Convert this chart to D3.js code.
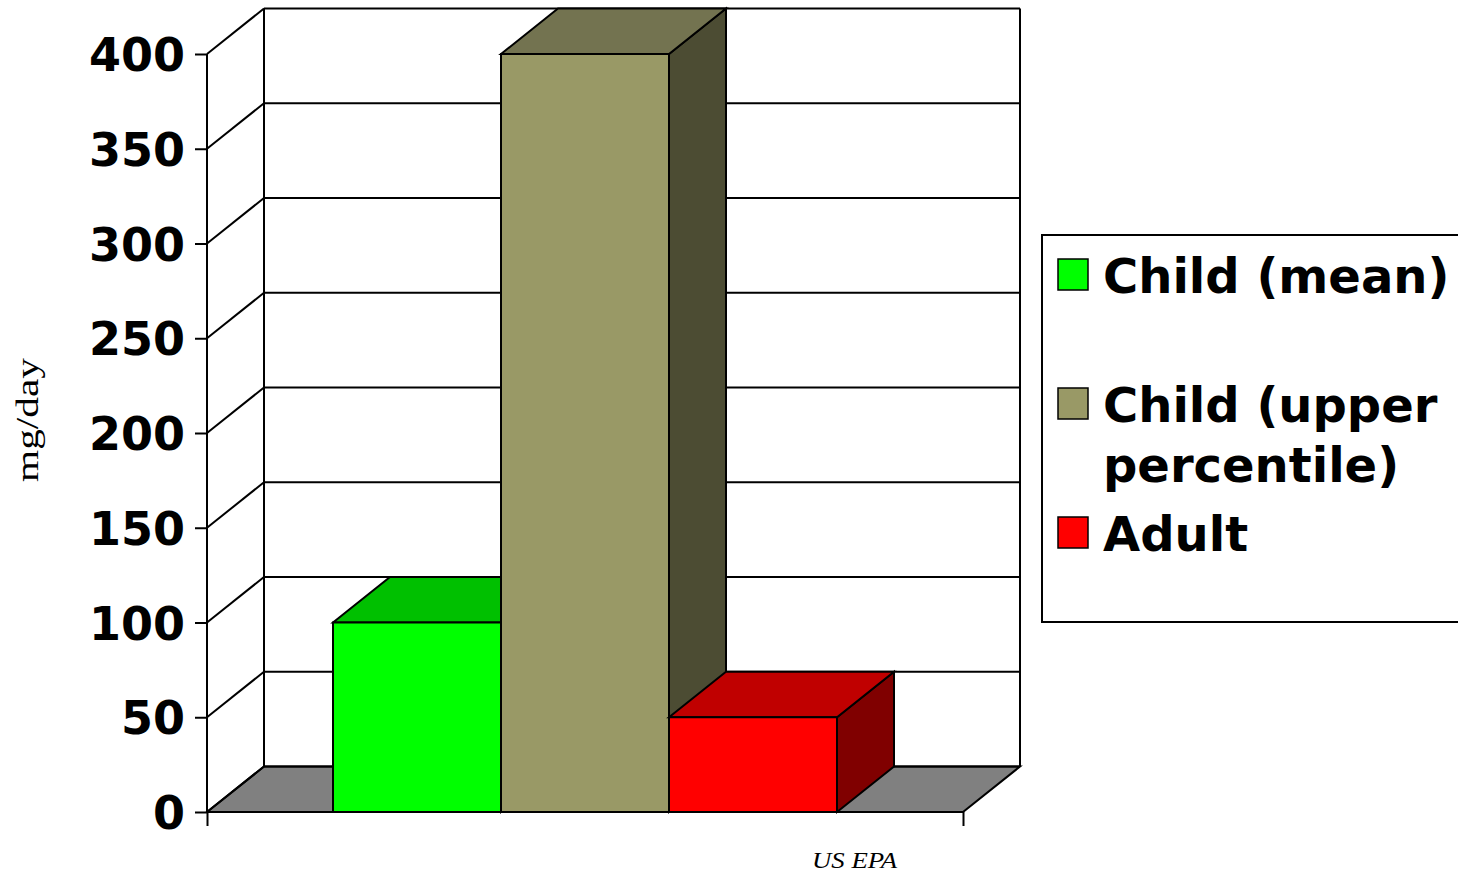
<!DOCTYPE html>
<html>
<head>
<meta charset="utf-8">
<script src="https://cdn.jsdelivr.net/npm/d3@7"></script>
<style>
  html, body { margin: 0; padding: 0; background: #fff; }
  svg { display: block; }
</style>
</head>
<body>
<svg id="chart" width="1458" height="873"></svg>
<script>
// Soil ingestion rates, mg/day
const categories = ["US EPA"];
const series = ["Child (mean)", "Child (upper percentile)", "Adult"];
const values = [100, 400, 50];
const yTicks = [0, 50, 100, 150, 200, 250, 300, 350, 400];
const legendLines = [["Child (mean)"], ["Child (upper", "percentile)"], ["Adult"]];

const frontColors = ["#00ff00", "#999966", "#ff0000"];
const topColors   = ["#00c000", "#737350", "#c00000"];
const sideColors  = ["#008000", "#4c4c33", "#800000"];

const svg = d3.select("#chart");
const STROKE = "#000", SW = 2;
const DX = 57, DY = -45.5;           // depth offset of the 3D box

const plotLeft = 207, plotRight = 963;
const y = d3.scaleLinear().domain([0, 400]).range([812, 54]);
const xCat = d3.scaleBand().domain(categories).range([plotLeft, plotRight]);
// gap width 150%: 3 bars + 1.5 bar widths of gap
const bw = xCat.bandwidth() / (series.length + 1.5);
const xSer = d3.scaleBand().domain(series)
  .range([xCat(categories[0]) + bw * 0.75, xCat(categories[0]) + xCat.bandwidth() - bw * 0.75]);

const poly = pts => "M" + pts.map(p => p.join(",")).join("L") + "Z";

// floor
svg.append("path")
  .attr("d", poly([[plotLeft, y(0)], [plotRight, y(0)], [plotRight + DX, y(0) + DY], [plotLeft + DX, y(0) + DY]]))
  .attr("fill", "#808080").attr("stroke", STROKE).attr("stroke-width", SW);

// back wall gridlines and left wall diagonals
const grid = svg.append("g").attr("stroke", STROKE).attr("stroke-width", SW).attr("fill", "none");
yTicks.forEach(t => {
  grid.append("line").attr("x1", plotLeft + DX).attr("x2", plotRight + DX)
    .attr("y1", y(t) + DY).attr("y2", y(t) + DY);
  grid.append("line").attr("x1", plotLeft).attr("x2", plotLeft + DX)
    .attr("y1", y(t)).attr("y2", y(t) + DY);
});
grid.append("line").attr("x1", plotLeft + DX).attr("x2", plotLeft + DX)
  .attr("y1", y(0) + DY).attr("y2", y(400) + DY);
grid.append("line").attr("x1", plotRight + DX).attr("x2", plotRight + DX)
  .attr("y1", y(0) + DY).attr("y2", y(400) + DY);

// bars, drawn left to right so later faces overlap earlier ones
const bars = svg.append("g").attr("stroke", STROKE).attr("stroke-width", SW).attr("stroke-linejoin", "miter");
series.forEach((s, i) => {
  const x0 = xSer(s), x1 = x0 + xSer.bandwidth();
  const yt = y(values[i]), yb = y(0);
  bars.append("path").attr("fill", sideColors[i])
    .attr("d", poly([[x1, yb], [x1 + DX, yb + DY], [x1 + DX, yt + DY], [x1, yt]]));
  bars.append("path").attr("fill", topColors[i])
    .attr("d", poly([[x0, yt], [x0 + DX, yt + DY], [x1 + DX, yt + DY], [x1, yt]]));
  bars.append("rect").attr("fill", frontColors[i])
    .attr("x", x0).attr("y", yt).attr("width", x1 - x0).attr("height", yb - yt);
});

// y axis
const yAxis = svg.append("g").attr("transform", `translate(${plotLeft},0)`)
  .call(d3.axisLeft(y).tickValues(yTicks).tickSize(12).tickPadding(10).tickFormat(d3.format("d")));
yAxis.select(".domain").attr("stroke", STROKE).attr("stroke-width", SW).attr("d", `M0,${y(0)}V${y(400)}`);
yAxis.selectAll(".tick line").attr("stroke", STROKE).attr("stroke-width", SW);
yAxis.selectAll(".tick text")
  .attr("font-family", "'DejaVu Sans', Verdana, sans-serif")
  .attr("font-weight", "bold").attr("font-size", 46).attr("fill", "#000")
  .attr("dy", "0.36em");

// x axis (category band edges)
const xEdge = d3.scaleLinear().domain([0, 1]).range([plotLeft, plotRight]);
const xAxis = svg.append("g").attr("transform", `translate(0,${y(0)})`)
  .call(d3.axisBottom(xEdge).tickValues([0, 1]).tickSize(14).tickFormat(""));
xAxis.select(".domain").attr("stroke", STROKE).attr("stroke-width", SW).attr("d", `M${plotLeft},0H${plotRight}`);
xAxis.selectAll(".tick line").attr("stroke", STROKE).attr("stroke-width", SW);

// y axis title
svg.append("text")
  .attr("transform", "translate(38,420) rotate(-90)")
  .attr("text-anchor", "middle")
  .attr("font-family", "'Liberation Serif', 'Times New Roman', serif")
  .attr("font-size", 31).attr("fill", "#000")
  .attr("textLength", 124).attr("lengthAdjust", "spacingAndGlyphs")
  .text("mg/day");

// source note
svg.append("text")
  .attr("x", 812).attr("y", 868)
  .attr("font-family", "'Liberation Serif', 'Times New Roman', serif")
  .attr("font-style", "italic").attr("font-size", 24).attr("fill", "#000")
  .attr("textLength", 85).attr("lengthAdjust", "spacingAndGlyphs")
  .text(categories[0]);

// legend
const lg = svg.append("g");
lg.append("rect").attr("x", 1042).attr("y", 235).attr("width", 440).attr("height", 387)
  .attr("fill", "#fff").attr("stroke", STROKE).attr("stroke-width", SW);
const entryY = [259, 388, 517];
series.forEach((s, i) => {
  lg.append("rect").attr("x", 1058).attr("y", entryY[i]).attr("width", 30).attr("height", 31)
    .attr("fill", frontColors[i]).attr("stroke", STROKE).attr("stroke-width", 1.5);
  const t = lg.append("text")
    .attr("font-family", "'DejaVu Sans', Verdana, sans-serif")
    .attr("font-weight", "bold").attr("font-size", 48).attr("fill", "#000");
  legendLines[i].forEach((ln, k) => {
    t.append("tspan").attr("x", 1103).attr("y", entryY[i] + 34 + k * 60).text(ln);
  });
});
</script>
</body>
</html>
